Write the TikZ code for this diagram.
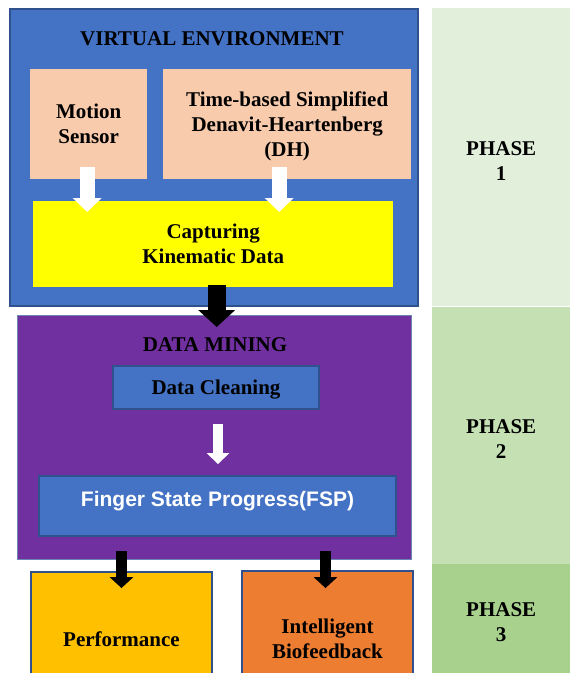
\documentclass[tikz,border=0pt]{standalone}
\usepackage{fontspec}
\setmainfont{Liberation Serif}
\newfontfamily\fwsans{Liberation Sans}
\usepackage{tikz}
\usetikzlibrary{arrows.meta,positioning}
\definecolor{fwbleu}{HTML}{4472C4}
\definecolor{fwedge}{HTML}{2F528F}
\definecolor{fwpeche}{HTML}{F8CBAD}
\definecolor{fwjaune}{HTML}{FFFF00}
\definecolor{fwviolet}{HTML}{7030A0}
\definecolor{fwor}{HTML}{FFC000}
\definecolor{fworange}{HTML}{ED7D31}
\definecolor{fwph1}{HTML}{E2EFDA}
\definecolor{fwph2}{HTML}{C5E0B3}
\definecolor{fwph3}{HTML}{A9D18E}

\begin{document}
\begin{tikzpicture}[x=1pt, y=-1pt,
  every node/.style={font=\fontsize{21}{25}\selectfont\bfseries, align=center, inner sep=0pt},
  blk/.style={anchor=north west, draw=fwedge, line width=2pt},
  flat/.style={anchor=north west},
  phasebox/.style={anchor=north west, minimum width=138pt, text height=46pt},
  wflow/.style={white, line width=15pt, -{Triangle[width=29pt,length=14pt,line width=0pt]}},
  wflowsm/.style={white, line width=10pt, -{Triangle[width=23pt,length=11pt,line width=0pt]}},
  kflow/.style={black, line width=18pt, -{Triangle[width=37pt,length=17pt,line width=0pt]}},
  kflowsm/.style={black, line width=11pt, -{Triangle[width=24pt,length=11pt,line width=0pt]}}]
  \useasboundingbox (0,0) rectangle (570,673);
  \clip (0,0) rectangle (570,673);
  % phases
  \node[phasebox, fill=fwph1, minimum height=298pt] (ph1) at (432,8) {PHASE\\1};
  \node[phasebox, fill=fwph2, minimum height=257pt, below=0pt of ph1] (ph2) {PHASE\\2};
  \node[phasebox, fill=fwph3, minimum height=110pt, below=0pt of ph2] (ph3) {PHASE\\3};
  % virtual environment
  \node[blk, fill=fwbleu, minimum width=408pt, minimum height=297pt] (ve) at (9,8) {};
  \node (vetitle) at (212,39) {VIRTUAL ENVIRONMENT};
  \node[flat, fill=fwpeche, minimum width=117pt, minimum height=110pt] (sensor) at (30,69) {Motion\\Sensor};
  \node[flat, fill=fwpeche, minimum width=248pt, minimum height=110pt, text height=70pt] (dh) at (163,69) {Time-based Simplified\\Denavit-Heartenberg\\(DH)};
  \node[flat, fill=fwjaune, minimum width=360pt, minimum height=86pt] (capture) at (33,201) {Capturing\\Kinematic Data};
  \draw[wflow, shorten <=-12pt, shorten >=-11pt] ([xshift=-1.5pt]sensor.south) -- ([xshift=-1.5pt]sensor.south |- capture.north);
  \draw[wflow, shorten <=-12pt, shorten >=-11pt] ([xshift=-8pt]dh.south) -- ([xshift=-8pt]dh.south |- capture.north);
  % data mining
  \node[blk, draw=fwedge!70!white, line width=1pt, fill=fwviolet, minimum width=394pt, minimum height=244pt] (dm) at (17,315) {};
  \draw[kflow, shorten <=-2pt, shorten >=-12pt] ([xshift=3.5pt]capture.south) -- ([xshift=3.5pt]capture.south |- dm.north);
  \node (dmtitle) at (215,345) {DATA MINING};
  \node[blk, fill=fwbleu, minimum width=206pt, minimum height=43pt, text depth=0pt] (clean) at (112,365) {Data Cleaning};
  \node[blk, fill=fwbleu, minimum width=357pt, minimum height=60pt, text height=30pt, text depth=30pt,
        font=\fwsans\fontsize{21}{25}\selectfont\bfseries, text=white] (fsp) at (38,475) {Finger State Progress(FSP)};
  \draw[wflowsm, shorten <=14pt, shorten >=11pt] ([xshift=2pt]clean.south) -- ([xshift=2pt]clean.south |- fsp.north);
  % outcomes
  \node[blk, fill=fwor, minimum width=181pt, minimum height=134pt] (perf) at (30,571) {Performance};
  \node[blk, fill=fworange, minimum width=171pt, minimum height=135pt] (bio) at (241,570) {Intelligent\\Biofeedback};
  \draw[kflowsm, shorten <=14pt, shorten >=-17pt] (fsp.south -| perf.north) -- (perf.north);
  \draw[kflowsm, shorten <=14pt, shorten >=-18pt] ([xshift=-2pt]fsp.south -| bio.north) -- ([xshift=-2pt]bio.north);
\end{tikzpicture}
\end{document}
